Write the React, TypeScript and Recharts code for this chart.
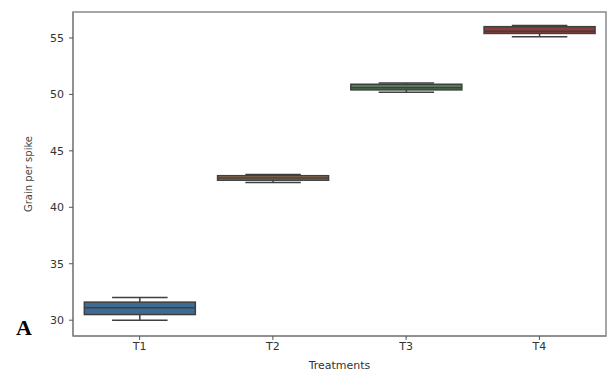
import React from "react";
import { ComposedChart, Bar, XAxis, YAxis, Cell, ReferenceArea } from "recharts";

const categories = ["T1", "T2", "T3", "T4"];
const mins = [30.0, 42.2, 50.2, 55.1];
const q1s = [30.5, 42.4, 50.4, 55.4];
const medians = [31.1, 42.6, 50.6, 55.6];
const q3s = [31.6, 42.8, 50.9, 56.0];
const maxs = [32.0, 42.9, 51.0, 56.1];
const yTicks = [30, 35, 40, 45, 50, 55];
const yDomain = [28.6, 57.3];
const fills = ["#3d6b93", "#9a7650", "#557a55", "#8f3c3c"];

const data = categories.map((c, i) => ({
  name: c,
  min: mins[i],
  q1: q1s[i],
  median: medians[i],
  q3: q3s[i],
  max: maxs[i],
  range: [mins[i], maxs[i]],
}));

const STROKE = "#3f3f3f";

const BoxShape = (props: any) => {
  const { x, y, width, height, payload, fill } = props;
  const top = Math.min(y, y + height);
  const bottom = Math.max(y, y + height);
  const span = payload.max - payload.min;
  const toY = (v: number) => top + ((payload.max - v) / span) * (bottom - top);
  const cx = x + width / 2;
  const capHalf = width / 4;
  const yq1 = toY(payload.q1);
  const yq3 = toY(payload.q3);
  const ymed = toY(payload.median);
  const ymin = toY(payload.min);
  const ymax = toY(payload.max);
  return (
    <g>
      <line x1={cx} x2={cx} y1={ymax} y2={yq3} stroke={STROKE} strokeWidth={1.5} />
      <line x1={cx} x2={cx} y1={yq1} y2={ymin} stroke={STROKE} strokeWidth={1.5} />
      <line x1={cx - capHalf} x2={cx + capHalf} y1={ymax} y2={ymax} stroke={STROKE} strokeWidth={1.5} />
      <line x1={cx - capHalf} x2={cx + capHalf} y1={ymin} y2={ymin} stroke={STROKE} strokeWidth={1.5} />
      <rect x={x} y={yq3} width={width} height={Math.max(yq1 - yq3, 0.5)} fill={fill} stroke={STROKE} strokeWidth={1.5} />
      <line x1={x} x2={x + width} y1={ymed} y2={ymed} stroke={STROKE} strokeWidth={1.5} />
    </g>
  );
};

const tickStyle = { fontSize: 11, fill: "#333", fontFamily: "DejaVu Sans" };

export default function App() {
  return (
    <div style={{ position: "absolute", left: 0, top: 0, width: 610, height: 372, background: "#fff" }}>
      <ComposedChart
        width={610}
        height={372}
        data={data}
        margin={{ top: 12, right: 4, bottom: 0, left: 0 }}
        barCategoryGap="8.5%"
      >
        <XAxis
          dataKey="name"
          tick={tickStyle}
          tickLine={{ stroke: "#555" }}
          tickSize={4}
          axisLine={{ stroke: "#8a8a8a", strokeWidth: 1.5 }}
          height={36}
          label={{ value: "Treatments", position: "insideBottom", offset: 3, style: { fontSize: 11, fill: "#333", fontFamily: "DejaVu Sans" } }}
        />
        <YAxis
          type="number"
          domain={yDomain}
          ticks={yTicks}
          allowDataOverflow
          width={73}
          tick={tickStyle}
          tickLine={{ stroke: "#555" }}
          tickSize={4}
          tickMargin={5}
          axisLine={{ stroke: "#8a8a8a", strokeWidth: 1.5 }}
          label={{ value: "Grain per spike", angle: -90, position: "insideLeft", offset: 28, style: { fontSize: 10, fill: "#444", fontFamily: "DejaVu Sans", textAnchor: "middle" } }}
        />
        <ReferenceArea
          y1={yDomain[0]}
          y2={yDomain[1]}
          fill="none"
          fillOpacity={0}
          stroke="#8a8a8a"
          strokeWidth={1.5}
          ifOverflow="extendDomain"
        />
        <Bar dataKey="range" shape={<BoxShape />} isAnimationActive={false}>
          {data.map((d, i) => (
            <Cell key={d.name} fill={fills[i]} />
          ))}
        </Bar>
      </ComposedChart>
      <div
        style={{
          position: "absolute",
          left: 16,
          top: 317,
          fontFamily: "Liberation Serif, Times New Roman, serif",
          fontWeight: "bold",
          fontSize: 22,
          lineHeight: "22px",
          color: "#000",
        }}
      >
        A
      </div>
    </div>
  );
}
